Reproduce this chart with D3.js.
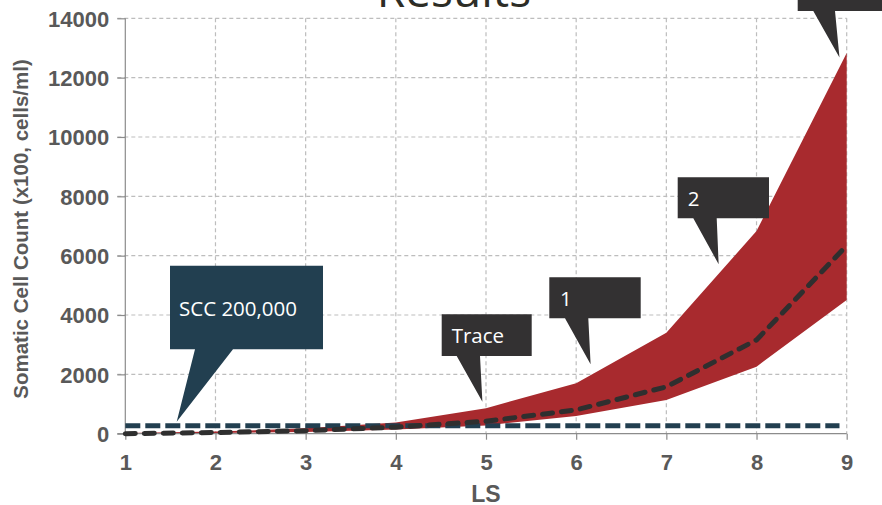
<!DOCTYPE html>
<html>
<head>
<meta charset="utf-8">
<script src="https://cdn.jsdelivr.net/npm/d3@7"></script>
<style>
  html, body { margin: 0; padding: 0; background: #fff; }
  svg { display: block; }
</style>
</head>
<body>
<svg id="chart" width="882" height="505"></svg>
<script>
// Lactation stage (LS) categories along the x axis
const lactationStages = [1, 2, 3, 4, 5, 6, 7, 8, 9];
// Somatic cell count (x100 cells/ml): upper and lower envelope and the mean
const upperCount = [20, 70, 180, 380, 860, 1700, 3400, 6830, 12830];
const meanCount  = [0, 40, 100, 220, 420, 800, 1580, 3160, 6340];
const lowerCount = [0, 20, 60, 140, 280, 600, 1140, 2260, 4510];
// Reference threshold line
const sccThreshold = 270;
// Axis ticks
const yTickValues = [0, 2000, 4000, 6000, 8000, 10000, 12000, 14000];
const xTickValues = [1, 2, 3, 4, 5, 6, 7, 8, 9];
// Callout labels
const calloutLabels = ["SCC 200,000", "Trace", "1", "2", ""];
// Points (in data units) the callout pointers aim at
const calloutTargetLS = [1.57, 4.96, 6.16, 7.58, 8.92];
const calloutTargetCount = [405, 1079, 2337, 5712, 12682];

const svg = d3.select("#chart");

const x = d3.scaleLinear().domain([1, 9]).range([125.3, 846.7]);
const y = d3.scaleLinear().domain([0, 14000]).range([433.7, 18.3]);

const gridColor = "#bdbdbd";
const axisColor = "#8c8c8c";
const labelColor = "#595959";

// Title
svg.append("text")
  .attr("x", 454).attr("y", 7)
  .attr("text-anchor", "middle")
  .attr("font-family", "'Open Sans', sans-serif")
  .attr("font-size", 46)
  .attr("fill", "#2d2d26")
  .text("Results");

// Gridlines
const grid = svg.append("g");
grid.selectAll(".hgrid").data(yTickValues.filter(d => d > 0)).join("line")
  .attr("x1", x(1) - 8).attr("x2", x(9))
  .attr("y1", d => y(d)).attr("y2", d => y(d))
  .attr("stroke", gridColor).attr("stroke-width", 1.2)
  .attr("stroke-dasharray", "4,3");
grid.selectAll(".vgrid").data(xTickValues.filter(d => d > 1)).join("line")
  .attr("x1", d => x(d)).attr("x2", d => x(d))
  .attr("y1", y(14000)).attr("y2", y(0))
  .attr("stroke", gridColor).attr("stroke-width", 1.2)
  .attr("stroke-dasharray", "4,3");

// Envelope band
const bandData = lactationStages.map((ls, i) => ({ ls, hi: upperCount[i], lo: lowerCount[i] }));
svg.append("path")
  .datum(bandData)
  .attr("fill", "#a82a2e")
  .attr("d", d3.area().x(d => x(d.ls)).y0(d => y(d.lo)).y1(d => y(d.hi)));

// Axes
const yAxis = d3.axisLeft(y).tickValues(yTickValues).tickSize(8).tickFormat(d3.format("d"));
const xAxis = d3.axisBottom(x).tickValues(xTickValues).tickSize(6).tickFormat(d3.format("d"));

const gy = svg.append("g").attr("transform", `translate(${x(1)},0)`).call(yAxis);
const gx = svg.append("g").attr("transform", `translate(0,${y(0)})`).call(xAxis);
[gx, gy].forEach(g => {
  g.select(".domain").attr("stroke", axisColor).attr("stroke-width", 1.2);
  g.selectAll(".tick line").attr("stroke", axisColor).attr("stroke-width", 1.2);
  g.selectAll(".tick text")
    .attr("fill", labelColor)
    .attr("font-family", "'Liberation Sans', Arial, sans-serif")
    .attr("font-weight", "bold")
    .attr("font-size", 22);
});
gy.select(".domain").attr("d", `M0,${y(14000)}V${y(0)}`);
gx.select(".domain").attr("d", `M${x(1) - 8},0H${x(9)}`);
gy.selectAll(".tick text").attr("x", -16).attr("dy", "0.36em");
gx.selectAll(".tick text").attr("y", 21);

// Threshold line
svg.append("line")
  .attr("x1", x(1)).attr("x2", x(8.92))
  .attr("y1", y(sccThreshold)).attr("y2", y(sccThreshold))
  .attr("stroke", "#223f50").attr("stroke-width", 5)
  .attr("stroke-dasharray", "15,5");

// Mean line
svg.append("path")
  .datum(lactationStages.map((ls, i) => ({ ls, v: meanCount[i] })))
  .attr("fill", "none")
  .attr("stroke", "#2f2f2f").attr("stroke-width", 5)
  .attr("stroke-linecap", "round")
  .attr("stroke-dasharray", "10,9")
  .attr("d", d3.line().x(d => x(d.ls)).y(d => y(d.v)));

// Axis titles
svg.append("text")
  .attr("transform", "translate(28,229) rotate(-90)")
  .attr("text-anchor", "middle")
  .attr("font-family", "'Liberation Sans', Arial, sans-serif")
  .attr("font-weight", "bold")
  .attr("font-size", 20.5)
  .attr("fill", labelColor)
  .text("Somatic Cell Count (x100, cells/ml)");

svg.append("text")
  .attr("x", 486).attr("y", 501.5)
  .attr("text-anchor", "middle")
  .attr("font-family", "'Liberation Sans', Arial, sans-serif")
  .attr("font-weight", "bold")
  .attr("font-size", 23)
  .attr("fill", labelColor)
  .text("LS");

// Callouts: box [left, top, right, bottom], pointer base [from, to] on the box bottom
const calloutLayout = [
  { box: [170, 265.7, 323, 349.3], base: [195, 233], fill: "#223f50", text: [179, 316] },
  { box: [441.7, 314.3, 531.7, 356], base: [456.7, 480], fill: "#333132", text: [451.7, 342.7] },
  { box: [549.3, 277.3, 640.7, 318.3], base: [565, 588.3], fill: "#333132", text: [560, 305.5] },
  { box: [677.7, 177.3, 769, 218.3], base: [693.3, 716.7], fill: "#333132", text: [687.7, 205.5] },
  { box: [797.7, -30, 900, 11], base: [813.3, 835], fill: "#333132", text: [808, -2] }
];

const callouts = svg.append("g");
calloutLayout.forEach((c, i) => {
  const [l, t, r, b] = c.box;
  const tx = x(calloutTargetLS[i]);
  const ty = y(calloutTargetCount[i]);
  const p = d3.path();
  p.moveTo(l, t);
  p.lineTo(r, t);
  p.lineTo(r, b);
  p.lineTo(c.base[1], b);
  p.lineTo(tx, ty);
  p.lineTo(c.base[0], b);
  p.lineTo(l, b);
  p.closePath();
  callouts.append("path").attr("d", p.toString()).attr("fill", c.fill);
  if (calloutLabels[i]) {
    callouts.append("text")
      .attr("x", c.text[0]).attr("y", c.text[1])
      .attr("font-family", "'Open Sans', sans-serif")
      .attr("font-size", 20.5)
      .attr("fill", "#ffffff")
      .text(calloutLabels[i]);
  }
});
</script>
</body>
</html>
